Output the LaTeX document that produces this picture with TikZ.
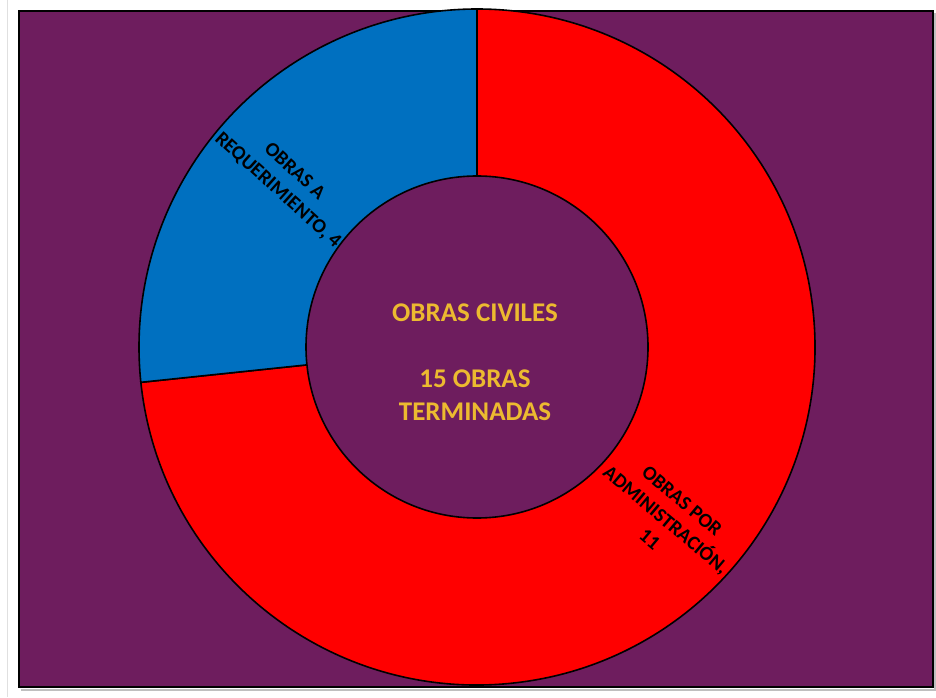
\documentclass[tikz,border=0pt]{standalone}
\usepackage{fontspec}
\setmainfont{Carlito}
\definecolor{bgpurple}{RGB}{110,29,94}
\definecolor{xlblue}{RGB}{0,112,192}
\definecolor{xlred}{RGB}{255,0,0}
\definecolor{xlgold}{RGB}{236,186,48}
\tikzset{
  slice/.style={draw=black, line width=1.6pt},
  seglabel/.style={font=\bfseries\fontsize{20}{25}\selectfont, text=black, align=center, inner sep=0pt},
  centerlabel/.style={font=\bfseries\fontsize{27}{33}\selectfont, text=xlgold, align=center, inner sep=0pt}
}
\begin{document}
\begin{tikzpicture}[x=1pt,y=1pt]
  \useasboundingbox (0,0) rectangle (936,697);
  \fill[white] (0,0) rectangle (936,697);
  \draw[black!12, line width=1pt] (7,0) -- (7,697);
  \draw[black!25, line width=1.5pt] (21,7) -- (935,7) -- (935,684);
  \draw[fill=bgpurple, draw=black, line width=2pt] (19,10) rectangle (933,686);
  \coordinate (C) at (477,350);
  % red slice: 186 -> 450
  \filldraw[slice, fill=xlred] (C) -- ++(186:338) arc[start angle=186, end angle=450, radius=338] -- cycle;
  % blue slice
  \filldraw[slice, fill=xlblue] (C) -- ++(90:338) arc[start angle=90, end angle=186, radius=338] -- cycle;
  % hole
  \filldraw[slice, fill=bgpurple] (C) circle[radius=171];
  \node[seglabel, rotate=-42] (lblA) at (286,516) {OBRAS A\\REQUERIMIENTO, 4};
  \node[seglabel, rotate=-40] (lblB) at (666,177) {OBRAS POR\\ADMINISTRACIÓN,\\11};
  \node[centerlabel] (ctr) at (475,335) {OBRAS CIVILES\\[33pt]15 OBRAS\\TERMINADAS};
\end{tikzpicture}
\end{document}
